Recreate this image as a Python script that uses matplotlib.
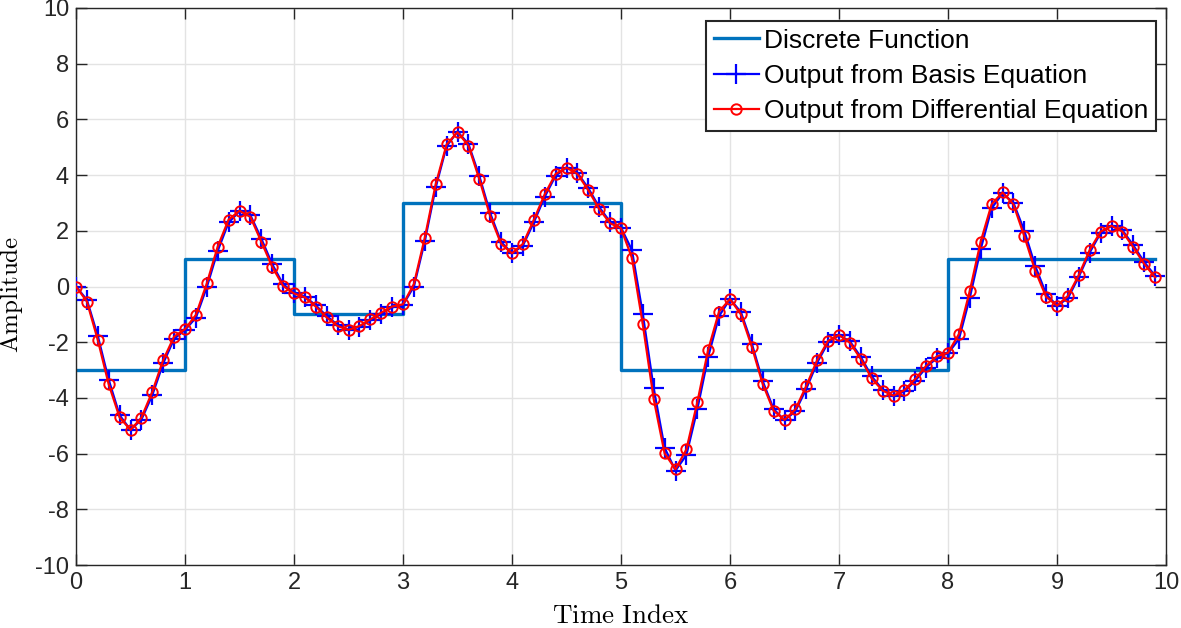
import numpy as np
import matplotlib
matplotlib.use('Agg')
import matplotlib.pyplot as plt

# discrete input: levels between edges
step_edges = [0, 1, 2, 3, 5, 8, 9.9]
step_levels = [-3, 1, -1, 3, -3, 1]

# sample times 0.0 .. 9.9
t = np.arange(100) / 10.0

# output from differential equation (red circles)
diff_out = [
    0.00, -0.54, -1.92, -3.51, -4.70, -5.15, -4.71, -3.78, -2.64, -1.80,
    -1.53, -1.02, 0.11, 1.43, 2.40, 2.72, 2.50, 1.61, 0.71, 0.02,
    -0.25, -0.39, -0.72, -1.11, -1.42, -1.56, -1.42, -1.18, -0.94, -0.72,
    -0.64, 0.09, 1.75, 3.67, 5.10, 5.54, 5.06, 3.86, 2.53, 1.53,
    1.19, 1.53, 2.39, 3.31, 4.04, 4.27, 4.04, 3.46, 2.78, 2.27,
    2.09, 1.03, -1.36, -4.04, -5.99, -6.56, -5.85, -4.16, -2.27, -0.90,
    -0.45, -1.00, -2.16, -3.50, -4.46, -4.79, -4.41, -3.57, -2.64, -1.95,
    -1.74, -2.02, -2.60, -3.30, -3.74, -3.92, -3.72, -3.32, -2.85, -2.50,
    -2.38, -1.71, -0.16, 1.61, 2.95, 3.38, 2.95, 1.81, 0.57, -0.37,
    -0.69, -0.34, 0.41, 1.31, 1.97, 2.18, 1.97, 1.41, 0.81, 0.33,
]

# output from basis equation (blue crosses)
basis_out = [
    0.00, -0.48, -1.78, -3.35, -4.62, -5.15, -4.78, -3.90, -2.76, -1.88,
    -1.56, -1.12, -0.02, 1.28, 2.30, 2.70, 2.56, 1.72, 0.80, 0.08,
    -0.22, -0.36, -0.68, -1.06, -1.38, -1.55, -1.45, -1.22, -0.98, -0.75,
    -0.66, 0.00, 1.63, 3.56, 5.04, 5.56, 5.12, 3.97, 2.63, 1.60,
    1.19, 1.47, 2.30, 3.22, 3.98, 4.27, 4.08, 3.53, 2.85, 2.32,
    2.11, 1.31, -0.99, -3.66, -5.79, -6.61, -6.05, -4.41, -2.52, -1.06,
    -0.45, -0.92, -2.05, -3.40, -4.40, -4.80, -4.48, -3.67, -2.73, -2.01,
    -1.75, -1.97, -2.53, -3.23, -3.70, -3.92, -3.77, -3.38, -2.91, -2.55,
    -2.40, -1.89, -0.40, 1.34, 2.81, 3.34, 3.01, 2.00, 0.74, -0.27,
    -0.69, -0.42, 0.35, 1.22, 1.92, 2.18, 2.02, 1.48, 0.88, 0.38,
]

plt.rcParams['font.family'] = ['Liberation Sans', 'DejaVu Sans']
plt.rcParams['mathtext.fontset'] = 'cm'
plt.rcParams['axes.unicode_minus'] = False

fig = plt.figure(figsize=(11.81, 6.28), dpi=100)
ax = fig.add_axes([76 / 1181, 63 / 628, 1090 / 1181, 557 / 628])

sx = list(step_edges[:-1]) + [step_edges[-1]]
sy = list(step_levels) + [step_levels[-1]]
ax.step(sx, sy, where='post', color='#0072BD', lw=2.4, label='Discrete Function', zorder=2)
ax.plot(t, basis_out, color='b', lw=1.6, marker='+', markersize=14, mew=1.6,
        label='Output from Basis Equation', zorder=3)
ax.plot(t, diff_out, color='r', lw=1.6, marker='o', markersize=7.5, mew=1.4,
        markerfacecolor='none', label='Output from Differential Equation', zorder=4)

ax.set_xlim(0, 10)
ax.set_ylim(-10, 10)
ax.set_xticks(np.arange(0, 11, 1))
ax.set_yticks(np.arange(-10, 11, 2))
ax.tick_params(direction='in', length=8, width=1, labelsize=17, top=True, right=True,
               color='#262626', labelcolor='#262626', pad=5)
ax.grid(True, color='#e3e3e3', lw=1)
ax.set_axisbelow(True)
for s in ax.spines.values():
    s.set_color('#262626')
    s.set_linewidth(1)

ax.set_xlabel(r'$\mathrm{Time\ Index}$', fontsize=19.5)
ax.xaxis.set_label_coords(0.5, -0.069)
ax.set_ylabel(r'$\mathrm{Amplitude}$', fontsize=18)
ax.yaxis.set_label_coords(-0.047, 0.485)

leg = ax.legend(loc='upper right', bbox_to_anchor=(0.991, 0.977), borderaxespad=0,
                fontsize=19, fancybox=False, framealpha=1, edgecolor='#262626',
                handlelength=1.7, handletextpad=0.2, labelspacing=0.42, borderpad=0.3)
leg.get_frame().set_linewidth(1.5)

fig.savefig('out.png', dpi=100)
